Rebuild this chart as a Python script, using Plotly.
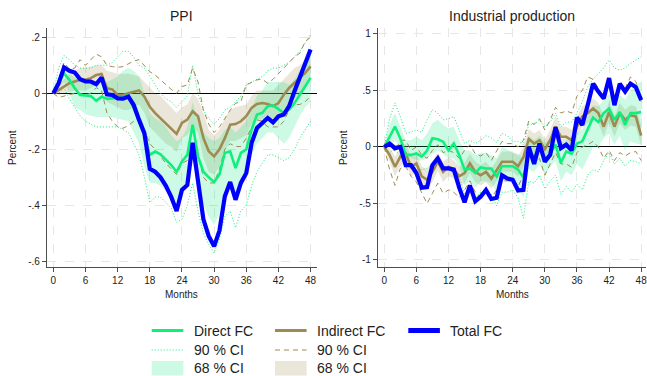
import plotly.graph_objects as go

# Horizon in months
months = list(range(49))

# ---------------- PPI responses ----------------
ppi_direct = [0.0, 0.04, 0.071, 0.048, 0.018, -0.006, -0.008, -0.01, -0.027, -0.012, -0.02, -0.018, -0.014,
              -0.014, -0.006, -0.055, -0.1, -0.148, -0.22, -0.208, -0.218, -0.236, -0.256, -0.28, -0.243,
              -0.22, -0.112, -0.225, -0.28, -0.30, -0.317, -0.29, -0.213, -0.207, -0.267, -0.213, -0.2,
              -0.13, -0.076, -0.07, -0.046, -0.043, -0.058, -0.07, -0.058, -0.035, -0.005, 0.025, 0.055]
ppi_indirect = [0.0, 0.012, 0.024, 0.036, 0.042, 0.048, 0.048, 0.054, 0.065, 0.069, 0.018, 0.014, -0.006,
                -0.006, 0.0, 0.006, 0.01, -0.012, -0.048, -0.071, -0.09, -0.11, -0.128, -0.145, -0.106,
                -0.094, -0.064, -0.082, -0.16, -0.207, -0.225, -0.2, -0.16, -0.112, -0.11, -0.1, -0.082,
                -0.052, -0.038, -0.035, -0.038, -0.046, -0.035, -0.005, 0.019, 0.037, 0.055, 0.073, 0.096]
ppi_total = [0.0, 0.036, 0.092, 0.08, 0.074, 0.05, 0.042, 0.042, 0.033, 0.056, -0.004, -0.006, -0.018,
             -0.019, -0.012, -0.042, -0.095, -0.143, -0.27, -0.28, -0.30, -0.33, -0.37, -0.42, -0.345,
             -0.327, -0.177, -0.31, -0.45, -0.51, -0.546, -0.49, -0.368, -0.317, -0.38, -0.32, -0.285,
             -0.177, -0.124, -0.106, -0.088, -0.104, -0.082, -0.076, -0.046, 0.007, 0.055, 0.102, 0.156]

ppi_d68_hi = [0.0, 0.05, 0.08, 0.07, 0.055, 0.045, 0.04, 0.035, 0.03, 0.035, 0.04, 0.05, 0.06, 0.08, 0.09,
              0.08, 0.06, 0.0, -0.07, -0.09, -0.10, -0.12, -0.15, -0.17, -0.16, -0.12, -0.03, -0.10, -0.14,
              -0.16, -0.17, -0.16, -0.13, -0.12, -0.14, -0.12, -0.10, -0.05, -0.01, 0.01, 0.04, 0.04, 0.04,
              0.04, 0.03, 0.05, 0.08, 0.11, 0.14]
ppi_d68_lo = [0.0, 0.02, 0.04, 0.0, -0.05, -0.06, -0.075, -0.08, -0.085, -0.085, -0.085, -0.085, -0.09,
              -0.095, -0.10, -0.14, -0.18, -0.26, -0.32, -0.32, -0.33, -0.35, -0.36, -0.39, -0.34, -0.31,
              -0.22, -0.33, -0.40, -0.44, -0.47, -0.43, -0.34, -0.32, -0.38, -0.32, -0.30, -0.22, -0.18,
              -0.16, -0.14, -0.14, -0.16, -0.18, -0.16, -0.12, -0.08, -0.05, -0.03]
ppi_d90_hi = [0.0, 0.09, 0.135, 0.12, 0.10, 0.09, 0.09, 0.09, 0.10, 0.10, 0.10, 0.11, 0.13, 0.15, 0.15,
              0.13, 0.10, 0.09, 0.06, 0.03, 0.0, -0.02, -0.03, -0.05, -0.03, -0.01, 0.10, 0.0, -0.06, -0.09,
              -0.11, -0.09, -0.06, -0.05, -0.03, -0.01, 0.03, 0.04, 0.05, 0.06, 0.08, 0.09, 0.09, 0.10,
              0.11, 0.13, 0.15, 0.18, 0.21]
ppi_d90_lo = [0.0, 0.0, 0.02, -0.02, -0.05, -0.08, -0.10, -0.11, -0.12, -0.12, -0.12, -0.12, -0.12, -0.13,
              -0.14, -0.18, -0.22, -0.30, -0.39, -0.37, -0.37, -0.39, -0.41, -0.46, -0.45, -0.40, -0.32,
              -0.42, -0.50, -0.54, -0.57, -0.52, -0.44, -0.42, -0.48, -0.42, -0.40, -0.33, -0.28, -0.25,
              -0.22, -0.22, -0.23, -0.24, -0.23, -0.20, -0.16, -0.13, -0.10]
ppi_i68_hi = [0.0, 0.03, 0.05, 0.07, 0.08, 0.09, 0.09, 0.095, 0.10, 0.10, 0.08, 0.075, 0.07, 0.07, 0.07,
              0.065, 0.06, 0.04, 0.02, 0.0, -0.01, -0.03, -0.05, -0.07, -0.05, -0.04, 0.0, -0.02, -0.07,
              -0.13, -0.15, -0.13, -0.09, -0.06, -0.05, -0.045, -0.04, -0.01, 0.01, 0.01, 0.01, 0.01, 0.03,
              0.05, 0.07, 0.09, 0.10, 0.12, 0.13]
ppi_i68_lo = [0.0, -0.005, 0.0, 0.005, 0.01, 0.01, 0.01, 0.02, 0.03, 0.035, -0.03, -0.04, -0.05, -0.06,
              -0.06, -0.05, -0.04, -0.07, -0.12, -0.14, -0.16, -0.18, -0.19, -0.21, -0.16, -0.15, -0.12,
              -0.14, -0.23, -0.28, -0.29, -0.26, -0.21, -0.17, -0.17, -0.16, -0.15, -0.11, -0.10, -0.09,
              -0.09, -0.09, -0.08, -0.06, -0.04, -0.02, 0.0, 0.03, 0.05]
ppi_i90_hi = [0.0, 0.05, 0.11, 0.085, 0.09, 0.12, 0.10, 0.12, 0.14, 0.13, 0.10, 0.095, 0.093, 0.095, 0.105,
              0.115, 0.12, 0.10, 0.077, 0.065, 0.048, 0.03, 0.014, 0.0, 0.024, 0.03, 0.09, 0.04, -0.06,
              -0.11, -0.14, -0.12, -0.09, -0.06, -0.036, -0.03, 0.03, 0.04, 0.048, 0.05, 0.036, 0.05, 0.07,
              0.09, 0.107, 0.13, 0.143, 0.185, 0.20]
ppi_i90_lo = [0.0, -0.015, -0.01, -0.005, 0.0, 0.0, -0.005, 0.0, 0.02, 0.01, -0.07, -0.10, -0.12, -0.125,
              -0.115, -0.10, -0.10, -0.13, -0.18, -0.20, -0.226, -0.25, -0.27, -0.29, -0.25, -0.24, -0.17,
              -0.22, -0.30, -0.32, -0.32, -0.27, -0.2, -0.18, -0.19, -0.19, -0.16, -0.12, -0.095, -0.10,
              -0.12, -0.12, -0.12, -0.10, -0.06, -0.04, -0.04, -0.03, -0.01]

# ---------------- Industrial production responses ----------------
ip_direct = [0.0, 0.09, 0.18, 0.075, -0.07, -0.07, -0.056, -0.085, -0.032, 0.077, 0.068, 0.047, -0.03,
             0.032, -0.07, -0.2, -0.19, -0.23, -0.18, -0.19, -0.19, -0.26, -0.17, -0.17, -0.17, -0.2,
             -0.27, -0.04, -0.085, -0.01, -0.115, -0.06, 0.02, -0.14, -0.04, -0.06, 0.03, 0.05, 0.15, 0.26,
             0.22, 0.3, 0.34, 0.24, 0.31, 0.195, 0.3, 0.3, 0.31]
ip_indirect = [0.0, -0.07, -0.175, -0.085, -0.056, -0.175, -0.145, -0.26, -0.29, -0.22, -0.13, -0.22,
               -0.175, -0.2, -0.26, -0.23, -0.145, -0.22, -0.25, -0.22, -0.28, -0.21, -0.13, -0.13, -0.13,
               -0.17, -0.09, 0.07, 0.03, 0.06, -0.02, 0.06, 0.18, 0.09, 0.09, 0.06, 0.18, 0.27, 0.3, 0.34,
               0.3, 0.18, 0.31, 0.18, 0.3, 0.24, 0.28, 0.27, 0.1]
ip_total = [0.0, 0.03, -0.01, 0.0, -0.16, -0.16, -0.23, -0.36, -0.355, -0.16, -0.1, -0.19, -0.19, -0.2,
            -0.36, -0.49, -0.34, -0.48, -0.44, -0.38, -0.46, -0.45, -0.25, -0.28, -0.29, -0.385, -0.38,
            0.0, -0.15, 0.03, -0.13, -0.07, 0.175, -0.01, 0.02, -0.03, 0.26, 0.195, 0.37, 0.56, 0.49, 0.43,
            0.61, 0.37, 0.56, 0.49, 0.56, 0.53, 0.415]

ip_d68_hi = [0.0, 0.2, 0.3, 0.18, 0.06, 0.06, 0.09, 0.06, 0.12, 0.21, 0.24, 0.195, 0.165, 0.18, 0.06,
             -0.03, -0.03, -0.07, -0.05, -0.05, -0.07, -0.1, 0.0, -0.02, -0.05, -0.06, -0.1, 0.1, 0.06, 0.1,
             0.04, 0.08, 0.12, 0.02, 0.06, 0.05, 0.12, 0.16, 0.27, 0.37, 0.36, 0.42, 0.47, 0.4, 0.46, 0.42,
             0.5, 0.55, 0.58]
ip_d68_lo = [0.0, 0.0, 0.06, 0.0, -0.085, -0.1, -0.115, -0.12, -0.1, -0.06, -0.03, -0.06, -0.1, -0.1,
             -0.17, -0.34, -0.3, -0.36, -0.3, -0.3, -0.32, -0.4, -0.3, -0.3, -0.28, -0.35, -0.45, -0.2,
             -0.22, -0.15, -0.25, -0.18, -0.12, -0.3, -0.22, -0.25, -0.15, -0.2, -0.1, 0.0, 0.0, 0.08, 0.12,
             0.02, 0.1, -0.03, 0.05, 0.03, 0.02]
ip_d90_hi = [0.0, 0.25, 0.39, 0.27, 0.12, 0.13, 0.15, 0.13, 0.24, 0.33, 0.3, 0.24, 0.25, 0.27, 0.15, 0.03,
             0.06, 0.03, 0.06, 0.1, 0.08, 0.04, 0.12, 0.1, 0.05, 0.05, 0.02, 0.2, 0.2, 0.24, 0.18, 0.22,
             0.3, 0.18, 0.22, 0.22, 0.3, 0.4, 0.53, 0.6, 0.65, 0.7, 0.77, 0.7, 0.68, 0.7, 0.74, 0.77, 0.8]
ip_d90_lo = [0.0, -0.05, -0.02, -0.08, -0.145, -0.17, -0.19, -0.2, -0.19, -0.15, -0.13, -0.16, -0.2,
             -0.23, -0.26, -0.42, -0.35, -0.45, -0.4, -0.4, -0.42, -0.52, -0.4, -0.4, -0.38, -0.45, -0.63,
             -0.3, -0.32, -0.25, -0.37, -0.3, -0.25, -0.42, -0.35, -0.4, -0.33, -0.38, -0.25, -0.2, -0.22,
             -0.12, -0.05, -0.15, -0.1, -0.17, -0.12, -0.13, -0.15]
ip_i68_hi = [0.0, 0.0, -0.085, 0.0, 0.03, -0.08, -0.06, -0.17, -0.2, -0.13, -0.05, -0.13, -0.09, -0.12,
             -0.17, -0.14, -0.06, -0.13, -0.16, -0.13, -0.19, -0.12, -0.04, -0.04, -0.04, -0.08, 0.0, 0.16,
             0.12, 0.15, 0.07, 0.15, 0.27, 0.18, 0.18, 0.15, 0.27, 0.36, 0.39, 0.43, 0.39, 0.27, 0.4, 0.27,
             0.39, 0.33, 0.37, 0.36, 0.19]
ip_i68_lo = [0.0, -0.14, -0.26, -0.17, -0.14, -0.26, -0.23, -0.35, -0.38, -0.31, -0.21, -0.31, -0.26,
             -0.28, -0.35, -0.32, -0.23, -0.31, -0.34, -0.31, -0.37, -0.3, -0.22, -0.22, -0.22, -0.26,
             -0.18, -0.02, -0.06, -0.03, -0.11, -0.03, 0.09, 0.0, 0.0, -0.03, 0.09, 0.18, 0.21, 0.25, 0.21,
             0.09, 0.22, 0.09, 0.21, 0.15, 0.19, 0.18, 0.01]
ip_i90_hi = [0.0, 0.02, -0.04, 0.06, 0.06, -0.03, 0.0, -0.07, -0.1, -0.03, 0.02, -0.05, -0.03, -0.05,
             -0.1, -0.03, 0.02, -0.06, -0.08, -0.05, -0.12, -0.03, 0.05, 0.03, 0.03, 0.0, 0.06, 0.23, 0.2,
             0.25, 0.15, 0.24, 0.35, 0.3, 0.32, 0.3, 0.45, 0.5, 0.62, 0.6, 0.52, 0.42, 0.58, 0.45, 0.55,
             0.52, 0.62, 0.58, 0.4]
ip_i90_lo = [0.0, -0.2, -0.34, -0.19, -0.17, -0.26, -0.31, -0.41, -0.5, -0.41, -0.32, -0.41, -0.38, -0.4,
             -0.45, -0.38, -0.3, -0.4, -0.45, -0.38, -0.45, -0.38, -0.3, -0.3, -0.3, -0.35, -0.25, -0.08,
             -0.14, -0.1, -0.25, -0.15, -0.05, -0.15, -0.15, -0.18, -0.05, 0.0, 0.02, 0.05, 0.0, -0.1,
             -0.03, -0.12, -0.05, -0.08, -0.05, -0.04, -0.12]

x_ticks = [0, 6, 12, 18, 24, 30, 36, 42, 48]
ppi_ticks = [0.2, 0.0, -0.2, -0.4, -0.6]
ppi_ticklabels = [".2", "0", "-.2", "-.4", "-.6"]
ip_ticks = [1, 0.5, 0, -0.5, -1]
ip_ticklabels = ["1", ".5", "0", "-.5", "-1"]

GREEN = "#0FEF7C"
OLIVE = "#9E8B52"
BLUE = "#0000FF"
GREEN_FILL = "rgba(0,230,120,0.20)"
OLIVE_FILL = "rgba(160,140,80,0.22)"
FONT = "Liberation Sans, Arial, sans-serif"

W, H = 647, 376

fig = go.Figure()


def band(lo, hi, color, xa, ya):
    fig.add_trace(go.Scatter(x=months, y=lo, mode="lines", line=dict(width=0, color=color),
                             xaxis=xa, yaxis=ya, showlegend=False, hoverinfo="skip"))
    fig.add_trace(go.Scatter(x=months, y=hi, mode="lines", line=dict(width=0, color=color),
                             fill="tonexty", fillcolor=color, xaxis=xa, yaxis=ya,
                             showlegend=False, hoverinfo="skip"))


def ci_lines(lo, hi, color, dash, width, xa, ya):
    for vals in (hi, lo):
        fig.add_trace(go.Scatter(x=months, y=vals, mode="lines",
                                 line=dict(color=color, dash=dash, width=width),
                                 xaxis=xa, yaxis=ya, showlegend=False))


panels = [
    ("x", "y", ppi_direct, ppi_indirect, ppi_total,
     ppi_d68_lo, ppi_d68_hi, ppi_d90_lo, ppi_d90_hi, ppi_i68_lo, ppi_i68_hi, ppi_i90_lo, ppi_i90_hi),
    ("x2", "y2", ip_direct, ip_indirect, ip_total,
     ip_d68_lo, ip_d68_hi, ip_d90_lo, ip_d90_hi, ip_i68_lo, ip_i68_hi, ip_i90_lo, ip_i90_hi),
]

for (xa, ya, d, ind, tot, d68l, d68h, d90l, d90h, i68l, i68h, i90l, i90h) in panels:
    band(i68l, i68h, OLIVE_FILL, xa, ya)
    band(d68l, d68h, GREEN_FILL, xa, ya)
    ci_lines(d90l, d90h, GREEN, "1px,2px", 1, xa, ya)
    ci_lines(i90l, i90h, OLIVE, "5px,4px", 1, xa, ya)
    fig.add_trace(go.Scatter(x=months, y=ind, mode="lines", line=dict(color=OLIVE, width=2.6),
                             name="Indirect FC", xaxis=xa, yaxis=ya, showlegend=False))
    fig.add_trace(go.Scatter(x=months, y=d, mode="lines", line=dict(color=GREEN, width=2.6),
                             name="Direct FC", xaxis=xa, yaxis=ya, showlegend=False))
    fig.add_trace(go.Scatter(x=months, y=tot, mode="lines", line=dict(color=BLUE, width=4.2),
                             name="Total FC", xaxis=xa, yaxis=ya, showlegend=False))


def px_x(p):
    return p / W


def px_y(p):
    return 1 - p / H


axis_common = dict(
    showline=True, linecolor="#4d4d4d", linewidth=1.2,
    ticks="outside", ticklen=4, tickcolor="#4d4d4d", tickwidth=1,
    showgrid=True, gridcolor="#e6e6e6", griddash="dash", gridwidth=1,
    tickfont=dict(family=FONT, size=10, color="#222"),
    ticklabeloverflow="allow", mirror=False,
)


def label(text, x, y, size, angle=0, xanchor="center"):
    return dict(text=text, x=px_x(x), y=px_y(y), xref="paper", yref="paper", xanchor=xanchor,
                yanchor="middle", textangle=angle, showarrow=False,
                font=dict(family=FONT, size=size, color="#222"))


# Key below the panels: three columns, three rows
key_cols = [151.7, 275.0, 408.3]
key_rows = [330.5, 350.0, 367.5]
key_sw = 31.6
key_entries = [
    (0, 0, "line", GREEN, 3, "solid", "Direct FC"),
    (1, 0, "line", OLIVE, 3, "solid", "Indirect FC"),
    (2, 0, "line", BLUE, 5, "solid", "Total FC"),
    (0, 1, "line", GREEN, 1, "1px,2px", "90 % CI"),
    (1, 1, "line", OLIVE, 1, "5px,4px", "90 % CI"),
    (0, 2, "rect", GREEN_FILL, 0, None, "68 % CI"),
    (1, 2, "rect", OLIVE_FILL, 0, None, "68 % CI"),
]

shapes = []
annotations = [
    label("PPI", 182, 16, 14),
    label("Industrial production", 512, 16, 14),
    label("Months", 182, 294, 10),
    label("Months", 512, 294, 10),
    label("Percent", 13, 148, 10, -90),
    label("Percent", 344, 148, 10, -90),
]
for col, row, kind, color, width, dash, text in key_entries:
    x0 = key_cols[col]
    yc = key_rows[row]
    if kind == "line":
        shapes.append(dict(type="line", xref="paper", yref="paper",
                           x0=px_x(x0), x1=px_x(x0 + key_sw), y0=px_y(yc), y1=px_y(yc),
                           line=dict(color=color, width=width, dash=dash)))
    else:
        shapes.append(dict(type="rect", xref="paper", yref="paper",
                           x0=px_x(x0), x1=px_x(x0 + key_sw), y0=px_y(yc - 6.5), y1=px_y(min(yc + 8, H)),
                           fillcolor=color, line=dict(width=0)))
    annotations.append(label(text, x0 + 40, yc, 14, xanchor="left"))

fig.update_layout(
    width=W, height=H,
    margin=dict(l=0, r=0, t=0, b=0),
    paper_bgcolor="white", plot_bgcolor="white",
    font=dict(family=FONT, color="#222"),
    showlegend=False,
    xaxis=dict(domain=[px_x(47), px_x(317)], range=[-1.18, 49.2], tickvals=x_ticks,
               zeroline=False, anchor="y", **axis_common),
    yaxis=dict(domain=[px_y(267), px_y(28)], range=[-0.62, 0.233], tickvals=ppi_ticks,
               ticktext=ppi_ticklabels, zeroline=True, zerolinecolor="black", zerolinewidth=1,
               anchor="x", **axis_common),
    xaxis2=dict(domain=[px_x(378), px_x(646)], range=[-1.17, 48.9], tickvals=x_ticks,
                zeroline=False, anchor="y2", **axis_common),
    yaxis2=dict(domain=[px_y(267), px_y(28)], range=[-1.062, 1.053], tickvals=ip_ticks,
                ticktext=ip_ticklabels, zeroline=True, zerolinecolor="black", zerolinewidth=1,
                anchor="x2", **axis_common),
    shapes=shapes,
    annotations=annotations,
)

fig.write_html("out.html")
